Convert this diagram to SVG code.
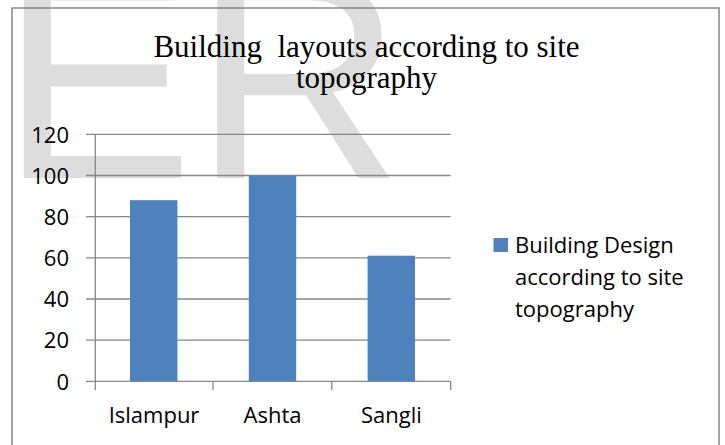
<svg xmlns="http://www.w3.org/2000/svg" width="725" height="445" viewBox="0 0 725 445">
  <style>
    .wm { font-family: "Liberation Sans", Arial, sans-serif; font-size: 290px; fill: #DDDDDD; }
    .title { font-family: "Liberation Serif", "Times New Roman", serif; font-size: 31px; fill: #000; text-anchor: middle; }
    .lbl { font-family: "Open Sans", "Noto Sans", sans-serif; font-size: 22px; fill: #000; }
    .ylbl { text-anchor: end; }
    .xlbl { text-anchor: middle; }
    .grid { stroke: #878787; stroke-width: 1.3; fill: none; }
    .bar { fill: #4F81BD; }
  </style>
  <rect x="0" y="0" width="725" height="445" fill="#FFFFFF"/>
  <g id="watermark">
    <text class="wm" x="0" y="178">ER</text>
  </g>
  <g id="chart-frame">
    <rect x="12" y="8" width="707" height="460" fill="none" stroke="#878787" stroke-width="1.5"/>
  </g>
  <g id="title">
    <text class="title" x="366.5" y="57.3">Building&#160; layouts according to site</text>
    <text class="title" x="366.5" y="88.3">topography</text>
  </g>
  <g id="connectors">
    <line class="grid" x1="86" y1="134.3" x2="450.7" y2="134.3"/>
    <line class="grid" x1="86" y1="175.5" x2="450.7" y2="175.5"/>
    <line class="grid" x1="86" y1="216.6" x2="450.7" y2="216.6"/>
    <line class="grid" x1="86" y1="257.8" x2="450.7" y2="257.8"/>
    <line class="grid" x1="86" y1="299" x2="450.7" y2="299"/>
    <line class="grid" x1="86" y1="340.1" x2="450.7" y2="340.1"/>
    <line class="grid" x1="86" y1="381.3" x2="450.7" y2="381.3"/>
    <line class="grid" x1="95.3" y1="134.3" x2="95.3" y2="390"/>
    <line class="grid" x1="213" y1="381.3" x2="213" y2="390"/>
    <line class="grid" x1="331.8" y1="381.3" x2="331.8" y2="390"/>
    <line class="grid" x1="450.7" y1="381.3" x2="450.7" y2="390"/>
  </g>
  <g id="y-axis-labels">
    <text class="lbl ylbl" x="69" y="142.5">120</text>
    <text class="lbl ylbl" x="69" y="183.7">100</text>
    <text class="lbl ylbl" x="69" y="224.8">80</text>
    <text class="lbl ylbl" x="69" y="266">60</text>
    <text class="lbl ylbl" x="69" y="307.2">40</text>
    <text class="lbl ylbl" x="69" y="348.3">20</text>
    <text class="lbl ylbl" x="69" y="389.5">0</text>
  </g>
  <g id="bar-islampur">
    <rect class="bar" x="130" y="200.2" width="47.4" height="181.1"/>
    <text class="lbl xlbl" x="154" y="423.3">Islampur</text>
  </g>
  <g id="bar-ashta">
    <rect class="bar" x="248.8" y="175.5" width="47.4" height="205.8"/>
    <text class="lbl xlbl" x="272.6" y="423.3">Ashta</text>
  </g>
  <g id="bar-sangli">
    <rect class="bar" x="367.6" y="255.7" width="47.4" height="125.6"/>
    <text class="lbl xlbl" x="391.4" y="423.3">Sangli</text>
  </g>
  <g id="legend">
    <rect class="bar" x="493.5" y="238" width="14.5" height="14"/>
    <text class="lbl" x="515" y="252.5">Building Design</text>
    <text class="lbl" x="515" y="285">according to site</text>
    <text class="lbl" x="515" y="317">topography</text>
  </g>
</svg>
